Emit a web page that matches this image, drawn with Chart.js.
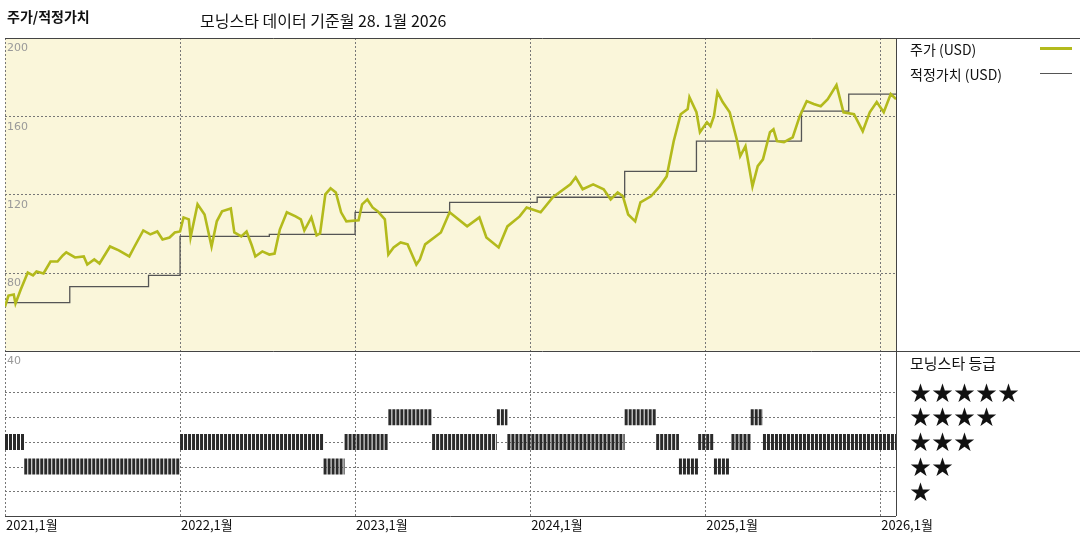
<!DOCTYPE html>
<html>
<head>
<meta charset="utf-8">
<script src="https://cdn.jsdelivr.net/npm/chart.js@4"></script>
<style>
  body { margin: 0; width: 1080px; height: 540px; background: #fff; font-family: "Noto Sans CJK KR", sans-serif; overflow: hidden; }
  #wrap { position: absolute; left: 0; top: 0; width: 1080px; height: 540px; }
  .txt { position: absolute; white-space: nowrap; color: #111; }
  .lg { position: absolute; left: 910px; font-size: 14px; }
  .lgline { position: absolute; height: 0; }
  .stars { position: absolute; left: 910px; font-size: 21px; line-height: 21px; letter-spacing: 1px; }
</style>
</head>
<body>
<div id="wrap"><canvas id="c" width="1080" height="540"></canvas></div>
<div class="txt" style="left:7px;top:6px;font-size:14px;font-weight:bold;">주가/적정가치</div>
<div class="txt" style="left:200px;top:8px;font-size:16px;">모닝스타 데이터 기준월 28. 1월 2026</div>
<div class="txt lg" style="top:39px;">주가 (USD)</div>
<div class="lgline" style="left:1040px;top:47px;width:32px;border-top:3px solid #b3ba1c;"></div>
<div class="txt lg" style="top:64px;">적정가치 (USD)</div>
<div class="lgline" style="left:1040px;top:73px;width:32px;border-top:1px solid #555;"></div>
<div class="txt lg" style="top:352px;font-size:15px;">모닝스타 등급</div>
<div class="txt stars" style="top:381px;">★★★★★</div>
<div class="txt stars" style="top:405px;">★★★★</div>
<div class="txt stars" style="top:430px;">★★★</div>
<div class="txt stars" style="top:455px;">★★</div>
<div class="txt stars" style="top:480px;">★</div>
<script>
// price (USD), x in fractional years
const priceYears = [2021.00,2021.02,2021.05,2021.06,2021.09,2021.13,2021.16,2021.18,2021.22,2021.26,2021.30,2021.33,2021.35,2021.40,2021.45,2021.47,2021.51,2021.54,2021.60,2021.65,2021.71,2021.74,2021.79,2021.83,2021.87,2021.90,2021.94,2021.97,2022.00,2022.02,2022.05,2022.06,2022.10,2022.14,2022.18,2022.21,2022.24,2022.29,2022.31,2022.35,2022.38,2022.41,2022.43,2022.47,2022.51,2022.54,2022.57,2022.61,2022.66,2022.69,2022.71,2022.75,2022.78,2022.80,2022.83,2022.86,2022.89,2022.92,2022.95,2023.02,2023.04,2023.07,2023.10,2023.13,2023.17,2023.19,2023.22,2023.26,2023.30,2023.33,2023.35,2023.37,2023.40,2023.49,2023.54,2023.64,2023.71,2023.75,2023.82,2023.87,2023.94,2023.98,2024.06,2024.13,2024.23,2024.26,2024.30,2024.36,2024.42,2024.46,2024.50,2024.53,2024.56,2024.60,2024.63,2024.69,2024.74,2024.78,2024.82,2024.86,2024.90,2024.91,2024.95,2024.97,2025.01,2025.03,2025.05,2025.07,2025.10,2025.14,2025.18,2025.20,2025.23,2025.27,2025.30,2025.33,2025.37,2025.39,2025.41,2025.45,2025.50,2025.54,2025.58,2025.62,2025.66,2025.70,2025.75,2025.79,2025.85,2025.90,2025.94,2025.98,2026.02,2026.06,2026.09];
const priceValues = [62.6,68.2,68.7,64.1,71.3,80.0,78.5,80.5,79.5,85.6,85.6,88.7,90.3,87.7,88.2,84.1,86.7,84.6,93.3,91.3,88.2,93.3,101.5,99.5,101.0,96.9,97.9,100.5,101.0,108.2,107.2,97.9,114.9,109.7,93.3,106.2,111.3,112.8,100.5,98.5,101.0,93.8,88.2,90.8,89.2,89.7,102.0,110.8,108.7,107.2,101.5,108.2,99.0,100.0,120.0,123.1,121.0,110.8,106.2,106.7,114.9,117.4,113.3,111.3,107.2,89.2,92.8,95.4,94.4,88.2,84.1,86.7,94.4,100.5,110.8,103.6,108.2,97.9,92.8,103.6,108.7,113.3,110.8,118.5,125.1,128.7,122.6,125.1,122.6,117.4,121.0,119.0,109.7,106.2,115.9,119.0,124.1,129.2,147.2,161.0,163.6,169.7,162.0,151.8,156.9,154.9,160.0,172.3,167.2,162.0,148.2,139.5,144.6,124.1,134.4,137.9,151.8,153.3,147.2,146.7,149.2,160.0,167.7,166.2,165.1,168.7,175.9,162.0,161.0,152.3,162.0,167.2,162.0,171.3,168.7];

// fair value (USD), step changes
const fairYears = [2021.00,2021.37,2021.82,2022.00,2022.51,2023.00,2023.54,2024.04,2024.54,2024.95,2025.55,2025.82,2026.09];
const fairValues = [64.6,72.8,78.5,98.5,99.5,110.8,115.9,118.5,131.8,147.2,162.6,171.3,171.3];

// star rating periods
const ratingStart = [2021.00,2021.11,2022.00,2022.82,2022.94,2023.19,2023.44,2023.81,2023.87,2024.54,2024.72,2024.85,2024.96,2025.05,2025.15,2025.26,2025.33];
const ratingEnd   = [2021.11,2022.00,2022.82,2022.94,2023.19,2023.44,2023.81,2023.87,2024.54,2024.72,2024.85,2024.96,2025.05,2025.14,2025.26,2025.33,2026.09];
const ratingStars = [3,2,3,2,3,4,3,4,3,4,3,2,3,2,3,4,3];

const yearTicks = [2021,2022,2023,2024,2025,2026];
const priceTicks = [200,160,120,80,40];

const datasets = [];
ratingStart.forEach((s, i) => {
    datasets.push({
        data: [{x: s, y: ratingStars[i]}, {x: ratingEnd[i], y: ratingStars[i]}],
        yAxisID: 'yr',
        borderColor: '#2a2a2a',
        borderWidth: 16,
        borderDash: [3, 1],
        borderCapStyle: 'butt',
        pointRadius: 0
    });
});
datasets.push({
    data: fairYears.map((x, i) => ({x, y: fairValues[i]})),
    yAxisID: 'y',
    stepped: 'before',
    borderColor: '#555',
    borderWidth: 1.3,
    pointRadius: 0
});
datasets.push({
    data: priceYears.map((x, i) => ({x, y: priceValues[i]})),
    yAxisID: 'y',
    borderColor: '#b3ba1c',
    borderWidth: 2.6,
    pointRadius: 0,
    tension: 0
});
// reverse so the price line is drawn on top
datasets.reverse();

const frame = {
    id: 'frame',
    beforeDatasetsDraw(chart) {
        const ctx = chart.ctx, a = chart.chartArea;
        const x = chart.scales.x, y = chart.scales.y, r = chart.scales.yr;
        const split = y.getPixelForValue(40);
        ctx.save();
        ctx.fillStyle = '#faf6da';
        ctx.fillRect(a.left, a.top, a.right - a.left, split - a.top);
        ctx.strokeStyle = '#777';
        ctx.lineWidth = 1;
        ctx.setLineDash([2, 2]);
        ctx.beginPath();
        [160, 120, 80].forEach(v => {
            const py = Math.round(y.getPixelForValue(v)) + 0.5;
            ctx.moveTo(a.left, py); ctx.lineTo(a.right, py);
        });
        [1, 2, 3, 4, 5].forEach(v => {
            const py = Math.round(r.getPixelForValue(v)) + 0.5;
            ctx.moveTo(a.left, py); ctx.lineTo(a.right, py);
        });
        yearTicks.forEach(t => {
            const px = Math.round(x.getPixelForValue(t)) + 0.5;
            ctx.moveTo(px, a.top); ctx.lineTo(px, a.bottom);
        });
        ctx.moveTo(a.left + 0.5, a.top); ctx.lineTo(a.left + 0.5, a.bottom);
        ctx.stroke();
        ctx.setLineDash([]);
        ctx.strokeStyle = '#444';
        ctx.beginPath();
        ctx.moveTo(a.left, a.top + 0.5); ctx.lineTo(1080, a.top + 0.5);
        ctx.moveTo(a.left, Math.round(split) + 0.5); ctx.lineTo(1080, Math.round(split) + 0.5);
        ctx.moveTo(Math.round(a.right) + 0.5, a.top); ctx.lineTo(Math.round(a.right) + 0.5, a.bottom);
        ctx.moveTo(a.left, Math.round(a.bottom) + 0.5); ctx.lineTo(a.right, Math.round(a.bottom) + 0.5);
        ctx.stroke();
        ctx.fillStyle = '#999';
        ctx.font = '11px "DejaVu Sans", sans-serif';
        ctx.textBaseline = 'top';
        priceTicks.forEach(v => {
            ctx.fillText(String(v), a.left + 2, y.getPixelForValue(v) + 5);
        });
        ctx.fillStyle = '#111';
        ctx.font = '13px "Noto Sans CJK KR", sans-serif';
        ctx.textBaseline = 'middle';
        yearTicks.forEach(t => {
            ctx.fillText(t + ',1월', x.getPixelForValue(t) + 1, a.bottom + 9);
        });
        ctx.restore();
    }
};

new Chart(document.getElementById('c'), {
    type: 'line',
    data: { datasets },
    options: {
        responsive: false,
        animation: false,
        layout: { padding: { left: 5, top: 38, right: 184, bottom: 24 } },
        plugins: { legend: { display: false }, tooltip: { enabled: false } },
        scales: {
            x: { type: 'linear', axis: 'x', min: 2021, max: 2026.09, display: false },
            y: { type: 'linear', axis: 'y', min: -44.6, max: 200, display: false },
            yr: { type: 'linear', axis: 'y', min: 0, max: 19.35, display: false }
        }
    },
    plugins: [frame]
});
</script>
</body>
</html>
